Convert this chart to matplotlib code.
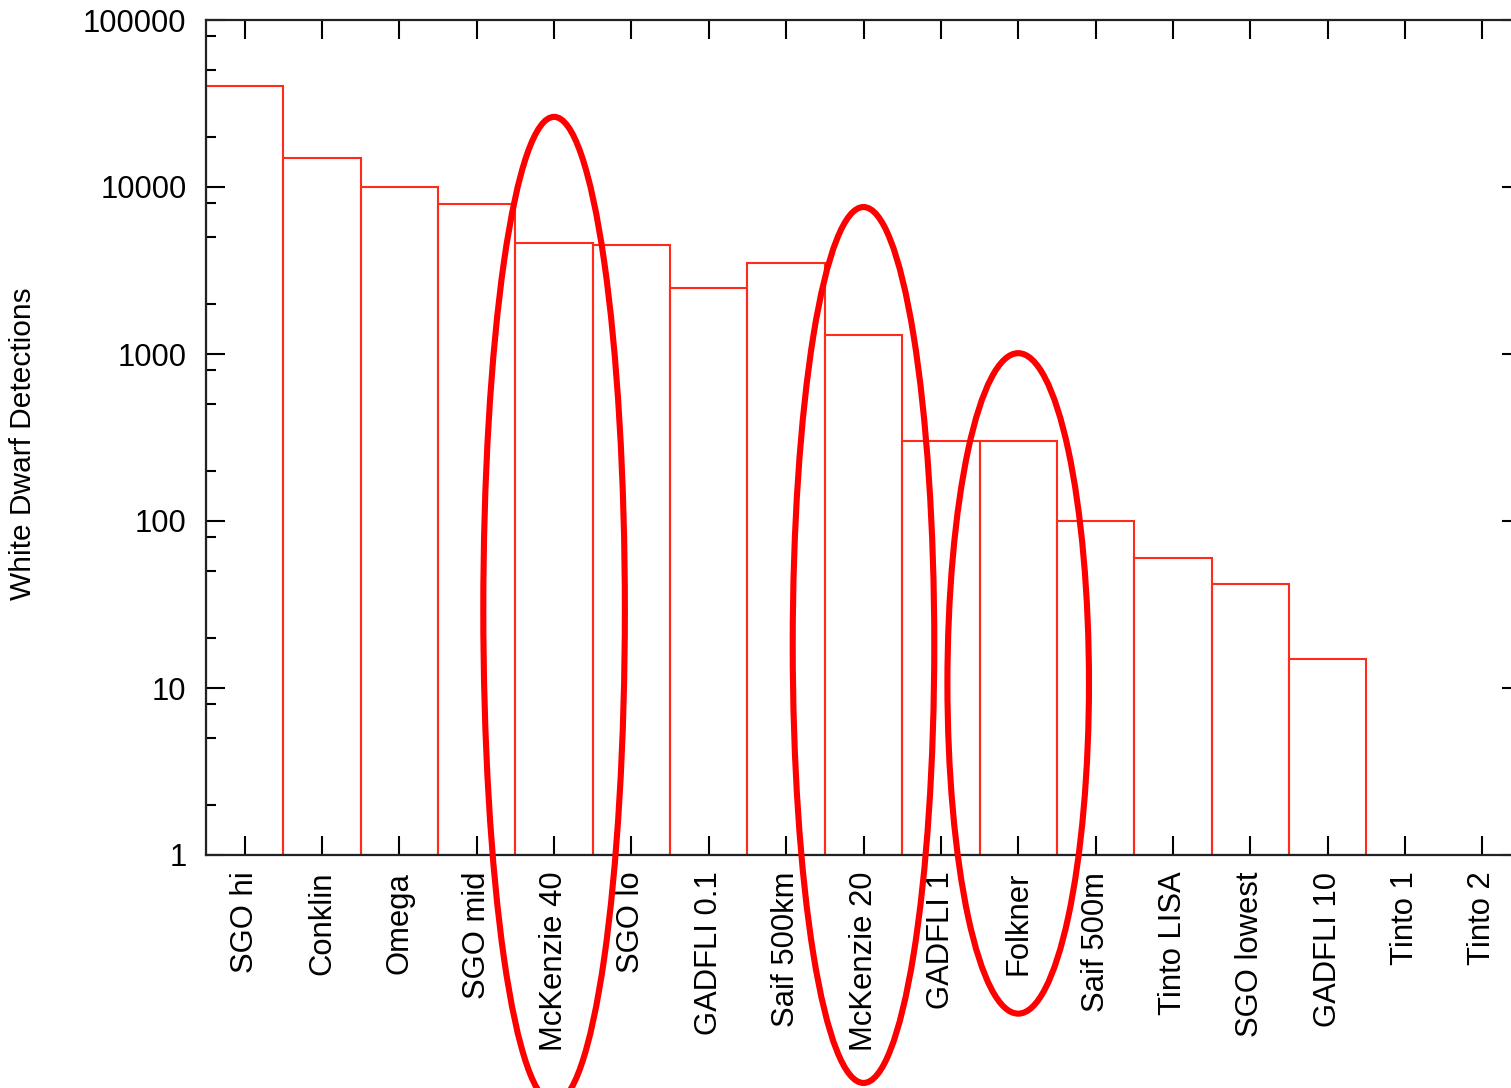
import numpy as np
import matplotlib
matplotlib.use("Agg")
import matplotlib.pyplot as plt
from matplotlib.patches import Ellipse
from matplotlib.transforms import blended_transform_factory
from matplotlib.ticker import FixedLocator, NullFormatter

categories = ["SGO hi", "Conklin", "Omega", "SGO mid", "McKenzie 40", "SGO lo",
              "GADFLI 0.1", "Saif 500km", "McKenzie 20", "GADFLI 1", "Folkner",
              "Saif 500m", "Tinto LISA", "SGO lowest", "GADFLI 10", "Tinto 1", "Tinto 2"]
detections = [40000, 15000, 10000, 7900, 4650, 4500,
              2500, 3500, 1300, 300, 300,
              100, 60, 42, 15, np.nan, np.nan]
y_ticks = [1, 10, 100, 1000, 10000, 100000]
y_ticklabels = ["1", "10", "100", "1000", "10000", "100000"]

# highlighted categories: (name, top of oval in axes fraction, bottom in axes fraction)
highlights = ["McKenzie 40", "McKenzie 20", "Folkner"]
highlight_top = [0.884, 0.776, 0.601]
highlight_bottom = [-0.297, -0.273, -0.190]

plt.rcParams['font.family'] = ['Liberation Sans', 'DejaVu Sans']

fig = plt.figure(figsize=(15.11, 10.88), dpi=100)
W, H = 1511, 1088
left, right, top, bottom = 206, 1521, 20, 855
ax = fig.add_axes([left / W, 1 - bottom / H, (right - left) / W, (bottom - top) / H])

x = np.arange(len(categories))
vals = np.array(detections, dtype=float)
mask = np.isfinite(vals)
ax.bar(x[mask], vals[mask] - 1, bottom=1, width=1.0, fill=False,
       edgecolor="#ff2a1a", linewidth=1.5, zorder=2)

ax.set_yscale("log")
ax.set_ylim(1, 100000)
ax.set_xlim(-0.5, len(categories) - 0.5)

ax.set_yticks(y_ticks)
ax.set_yticklabels(y_ticklabels)
minor = []
for d in range(0, 5):
    for m in (2, 5, 8):
        minor.append(m * 10 ** d)
ax.yaxis.set_minor_locator(FixedLocator(minor))
ax.yaxis.set_minor_formatter(NullFormatter())

ax.set_xticks(x)
ax.set_xticklabels(categories, rotation=90, ha="center", va="top")

ax.tick_params(axis="both", which="major", direction="in", length=14, width=1.5,
               top=True, right=True, labelsize=22.3, pad=12)
ax.tick_params(axis="y", which="minor", direction="in", length=7, width=1.5,
               right=True)
ax.tick_params(axis="y", which="major", pad=14)
for s in ax.spines.values():
    s.set_linewidth(1.6)
    s.set_color("#222222")

ax.set_ylabel("White Dwarf Detections", fontsize=21.5)
ax.yaxis.set_label_coords(-0.1285, 0.493)

trans = blended_transform_factory(ax.transData, ax.transAxes)
for name, t, b in zip(highlights, highlight_top, highlight_bottom):
    i = categories.index(name)
    e = Ellipse((i, (t + b) / 2), width=1.83, height=(t - b), transform=trans,
                fill=False, edgecolor="#ff0000", linewidth=4.4, clip_on=False, zorder=5)
    ax.add_patch(e)

fig.savefig("out.png", dpi=100)
